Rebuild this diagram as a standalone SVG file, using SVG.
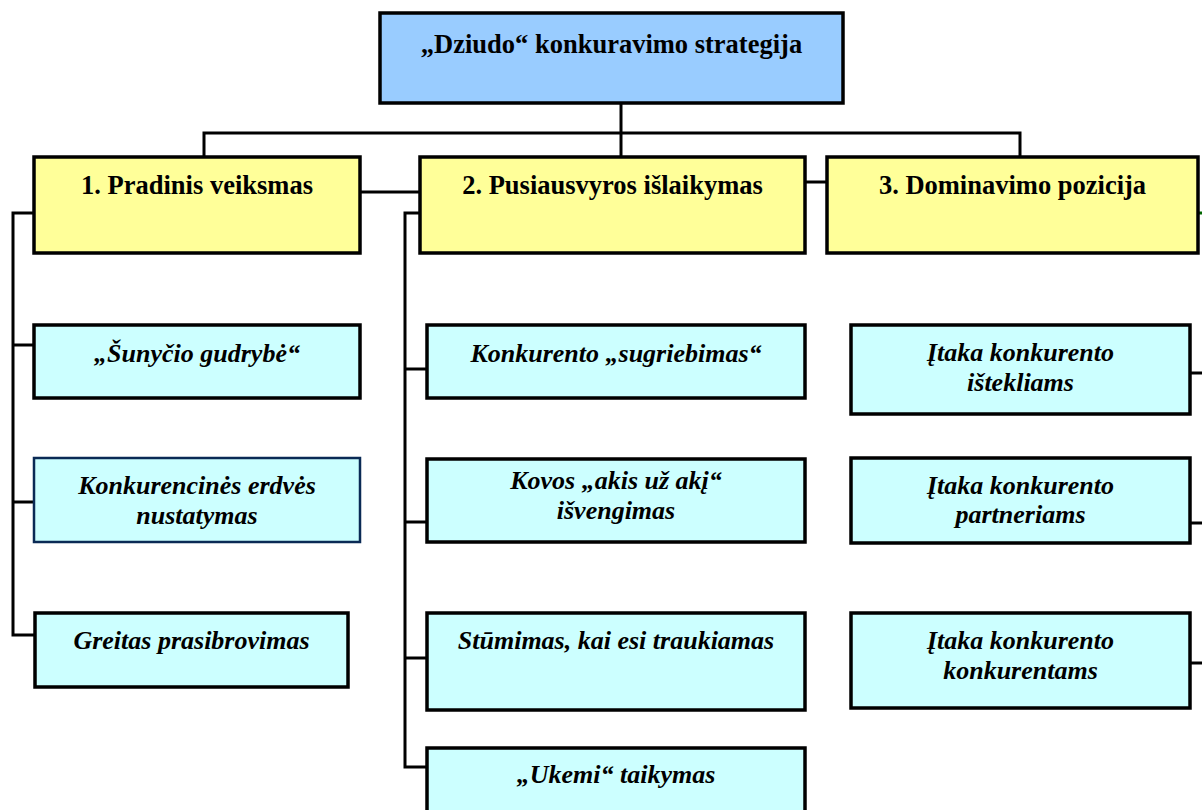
<svg xmlns="http://www.w3.org/2000/svg" width="1202" height="810" viewBox="0 0 1202 810">
  <style>
    .box { stroke: #000; stroke-width: 3.5; }
    .root { fill: #99ccff; }
    .stage { fill: #ffff99; }
    .item { fill: #ccffff; }
    .item-alt { fill: #ccffff; stroke: #0a2a55; stroke-width: 2.5; }
    .link { fill: none; stroke: #000; stroke-width: 3; }
    .t { font-family: 'Liberation Serif', 'Times New Roman', Times, serif; font-weight: bold; fill: #000; text-anchor: middle; }
    .h1 { font-size: 26.5px; }
    .h2 { font-size: 26.5px; }
    .it { font-size: 26px; font-style: italic; }
  </style>

  <!-- connectors -->
  <g id="connectors">
    <path class="link" d="M621,103 V157"/>
    <path class="link" d="M204,157 V133 H1020 V157"/>
    <path class="link" d="M360,192 H420"/>
    <path class="link" d="M805,182 H827"/>
    <!-- stage 1 spine -->
    <path class="link" d="M34,213 H13 V635 H35"/>
    <path class="link" d="M13,345 H34"/>
    <path class="link" d="M13,502 H34"/>
    <!-- stage 2 spine -->
    <path class="link" d="M420,213 H405 V767 H427"/>
    <path class="link" d="M405,369 H427"/>
    <path class="link" d="M405,522 H427"/>
    <path class="link" d="M405,658 H427"/>
    <!-- stage 3 branches -->
    <path class="link" d="M1190,373 H1202"/>
    <path class="link" d="M1190,523 H1202"/>
    <path class="link" d="M1190,663 H1202"/>
    <path d="M1198,213 H1202" stroke="#006600" stroke-width="3"/>
  </g>

  <g id="root">
    <rect class="box root" x="380" y="13" width="463" height="90"/>
    <text class="t h1" x="611.5" y="53">„Dziudo“ konkuravimo strategija</text>
  </g>

  <g id="stage1">
    <rect class="box stage" x="34" y="157" width="326" height="96"/>
    <text class="t h2" x="197" y="194">1. Pradinis veiksmas</text>
  </g>
  <g id="stage2">
    <rect class="box stage" x="420" y="157" width="385" height="96"/>
    <text class="t h2" x="612.5" y="194">2. Pusiausvyros išlaikymas</text>
  </g>
  <g id="stage3">
    <rect class="box stage" x="827" y="157" width="371" height="96"/>
    <text class="t h2" x="1012.5" y="194">3. Dominavimo pozicija</text>
  </g>

  <g id="s1-dog-trick">
    <rect class="box item" x="34" y="325" width="326" height="73"/>
    <text class="t it" x="197" y="362">„Šunyčio gudrybė“</text>
  </g>
  <g id="s1-space">
    <rect class="item-alt" x="34" y="458" width="326" height="84"/>
    <text class="t it" x="197" y="494">Konkurencinės erdvės</text>
    <text class="t it" x="197" y="524">nustatymas</text>
  </g>
  <g id="s1-breakthrough">
    <rect class="box item" x="35" y="613" width="313" height="74"/>
    <text class="t it" x="191.5" y="649">Greitas prasibrovimas</text>
  </g>

  <g id="s2-grip">
    <rect class="box item" x="427" y="325" width="378" height="73"/>
    <text class="t it" x="616" y="362">Konkurento „sugriebimas“</text>
  </g>
  <g id="s2-avoid">
    <rect class="box item" x="427" y="459" width="378" height="83"/>
    <text class="t it" x="616" y="489">Kovos „akis už akį“</text>
    <text class="t it" x="616" y="519">išvengimas</text>
  </g>
  <g id="s2-push">
    <rect class="box item" x="427" y="613" width="378" height="97"/>
    <text class="t it" x="616" y="649">Stūmimas, kai esi traukiamas</text>
  </g>
  <g id="s2-ukemi">
    <rect class="box item" x="427" y="748" width="378" height="70"/>
    <text class="t it" x="616" y="783">„Ukemi“ taikymas</text>
  </g>

  <g id="s3-resources">
    <rect class="box item" x="851" y="325" width="339" height="89"/>
    <text class="t it" x="1020.5" y="361">Įtaka konkurento</text>
    <text class="t it" x="1020.5" y="391">ištekliams</text>
  </g>
  <g id="s3-partners">
    <rect class="box item" x="851" y="458" width="339" height="85"/>
    <text class="t it" x="1020.5" y="494">Įtaka konkurento</text>
    <text class="t it" x="1020.5" y="523">partneriams</text>
  </g>
  <g id="s3-rivals">
    <rect class="box item" x="851" y="613" width="339" height="95"/>
    <text class="t it" x="1020.5" y="649">Įtaka konkurento</text>
    <text class="t it" x="1020.5" y="679">konkurentams</text>
  </g>
</svg>
